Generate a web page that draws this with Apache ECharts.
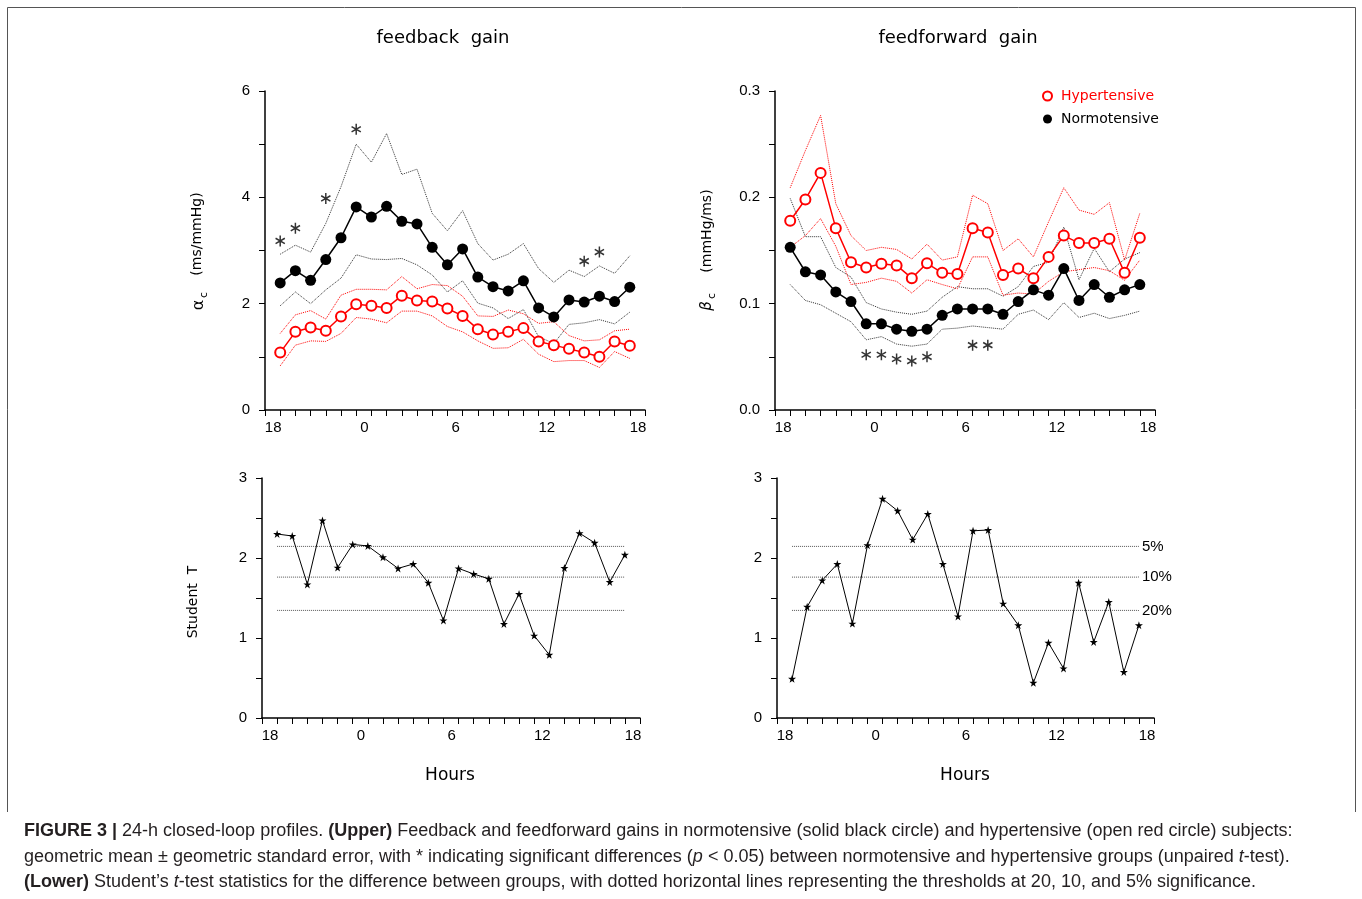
<!DOCTYPE html>
<html><head><meta charset="utf-8">
<script src="https://cdn.jsdelivr.net/npm/echarts@6/dist/echarts.min.js"></script>
<style>html,body{margin:0;padding:0;background:#fff}#c{width:1362px;height:899px}</style>
</head><body><div id="c"></div>
<script>
// ---------- data ----------
const clockHours = [18,19,20,21,22,23,0,1,2,3,4,5,6,7,8,9,10,11,12,13,14,15,16,17];
const xTickHours = [18,24,30,36,42];
const xTickText = ['18','0','6','12','18'];

// feedback gain alpha_c (ms/mmHg)
const fbNormo   = [2.39,2.62,2.44,2.83,3.24,3.82,3.63,3.83,3.55,3.50,3.06,2.73,3.03,2.50,2.32,2.24,2.43,1.92,1.75,2.07,2.03,2.14,2.04,2.31];
const fbNormoUp = [2.93,3.10,2.97,3.51,4.20,5.00,4.66,5.20,4.43,4.53,3.70,3.37,3.75,3.13,2.82,2.93,3.13,2.66,2.40,2.63,2.51,2.71,2.57,2.90];
const fbNormoLo = [1.96,2.22,2.00,2.26,2.48,2.92,2.84,2.83,2.85,2.73,2.54,2.22,2.43,2.01,1.92,1.72,1.89,1.38,1.25,1.61,1.64,1.70,1.62,1.84];
const fbHyper   = [1.08,1.47,1.55,1.49,1.76,1.99,1.96,1.92,2.15,2.06,2.04,1.91,1.77,1.52,1.42,1.47,1.54,1.29,1.22,1.15,1.08,1.00,1.29,1.21];
const fbHyperUp = [1.44,1.79,1.87,1.71,2.16,2.27,2.27,2.26,2.51,2.28,2.36,2.34,2.14,1.77,1.76,1.88,1.81,1.63,1.66,1.40,1.30,1.32,1.49,1.52];
const fbHyperLo = [0.83,1.22,1.30,1.29,1.44,1.74,1.71,1.64,1.86,1.86,1.77,1.57,1.47,1.30,1.16,1.17,1.33,1.05,0.91,0.93,0.93,0.80,1.10,0.97];
const fbStarIdx = [0,1,3,5,20,21];
const fbStarY   = [3.18,3.42,3.98,5.28,2.80,2.97];

// feedforward gain beta_c (mmHg/ms)
const ffHyper   = [0.178,0.198,0.223,0.171,0.139,0.134,0.1375,0.136,0.124,0.138,0.129,0.128,0.171,0.167,0.127,0.133,0.124,0.144,0.164,0.157,0.157,0.161,0.129,0.162];
const ffHyperUp = [0.209,0.244,0.277,0.194,0.164,0.150,0.153,0.151,0.142,0.156,0.141,0.144,0.202,0.194,0.150,0.161,0.144,0.177,0.209,0.188,0.184,0.195,0.141,0.185];
const ffHyperLo = [0.153,0.164,0.180,0.154,0.118,0.120,0.124,0.121,0.110,0.1225,0.118,0.114,0.144,0.144,0.108,0.110,0.109,0.121,0.130,0.132,0.134,0.131,0.122,0.141];
const ffNormo   = [0.153,0.130,0.127,0.111,0.102,0.081,0.081,0.076,0.074,0.076,0.089,0.095,0.095,0.095,0.090,0.102,0.113,0.108,0.133,0.103,0.118,0.106,0.113,0.118];
const ffNormoUp = [0.199,0.163,0.163,0.134,0.125,0.101,0.095,0.092,0.090,0.093,0.106,0.116,0.114,0.114,0.107,0.116,0.135,0.139,0.172,0.1225,0.152,0.130,0.142,0.148];
const ffNormoLo = [0.118,0.103,0.099,0.091,0.083,0.066,0.069,0.062,0.060,0.062,0.076,0.077,0.079,0.0775,0.076,0.090,0.094,0.085,0.101,0.087,0.091,0.086,0.089,0.093];
const ffStarIdx = [5,6,7,8,9,12,13];
const ffStarY   = [0.052,0.052,0.048,0.046,0.050,0.061,0.061];

// Student t statistics
const tFb = [2.30,2.275,1.67,2.47,1.88,2.17,2.15,2.01,1.87,1.925,1.69,1.22,1.87,1.80,1.74,1.175,1.55,1.03,0.79,1.875,2.31,2.19,1.70,2.04];
const tFf = [0.49,1.39,1.72,1.925,1.18,2.16,2.74,2.59,2.23,2.55,1.925,1.27,2.34,2.35,1.43,1.16,0.44,0.94,0.62,1.69,0.95,1.45,0.575,1.16];
const thresholds = [2.145,1.761,1.345];
const thresholdLabels = ['5%','10%','20%'];

// ---------- helpers ----------
const hourPos = clockHours.map(h => h < 18 ? h + 24 : h);
const pairs = vals => vals.map((v,i) => [hourPos[i], v]);
const starPairs = (idx, ys) => idx.map((k,i) => [hourPos[k], ys[i]]);

const RED = '#ff0000';
const AX = '#000';
const NUMFONT = 'Liberation Sans';
const TXTFONT = 'DejaVu Sans';
const asteriskPath = 'path://M43 0L57 0L57 100L43 100Z M2.7 32L9.7 19.9L97.3 68L90.3 80.1Z M9.7 80.1L2.7 68L90.3 19.9L97.3 32Z';
const starPath = 'path://M50 0L61.23 34.55L97.55 34.55L68.16 55.9L79.39 90.45L50 69.1L20.61 90.45L31.84 55.9L2.45 34.55L38.77 34.55Z';

function xAxis(gi){
  return {
    type:'value', gridIndex:gi, min:17, max:42, interval:1,
    axisLine:{lineStyle:{color:AX, width:1.5}},
    axisTick:{length:6, lineStyle:{color:AX, width:1}},
    splitLine:{show:false},
    axisLabel:{
      margin:10, color:'#000', fontFamily:NUMFONT, fontSize:15,
      formatter: v => { const k = xTickHours.indexOf(Math.round(v)); return k >= 0 ? '{a|' + xTickText[k] + '}' : ''; },
      rich:{a:{fontFamily:NUMFONT, fontSize:15, color:'#000', padding:[0,14,0,0]}}
    }
  };
}
function yAxis(gi, max, interval, fmt){
  return {
    type:'value', gridIndex:gi, min:0, max:max, interval:interval,
    axisLine:{show:true, lineStyle:{color:AX, width:1.5}},
    axisTick:{show:true, length:6, lineStyle:{color:AX, width:1}},
    splitLine:{show:false},
    axisLabel:{margin:15, color:'#000', fontFamily:NUMFONT, fontSize:15, formatter:fmt}
  };
}
function band(gi, vals, color){
  return {type:'line', xAxisIndex:gi, yAxisIndex:gi, data:pairs(vals), symbol:'none', silent:true,
    lineStyle:{type:'dotted', width:1, color:color}, z:2};
}
function meanHyper(gi, vals){
  return {name:'Hypertensive', type:'line', xAxisIndex:gi, yAxisIndex:gi, data:pairs(vals),
    symbol:'emptyCircle', symbolSize:10, itemStyle:{color:RED, borderColor:RED, borderWidth:1.5},
    lineStyle:{color:RED, width:1.5}, z:4};
}
function meanNormo(gi, vals){
  return {name:'Normotensive', type:'line', xAxisIndex:gi, yAxisIndex:gi, data:pairs(vals),
    symbol:'circle', symbolSize:11, itemStyle:{color:'#000'},
    lineStyle:{color:'#000', width:1.5}, z:4};
}
function stars(gi, idx, ys){
  return {type:'scatter', xAxisIndex:gi, yAxisIndex:gi, data:starPairs(idx, ys), symbol:asteriskPath,
    symbolSize:[10,11], itemStyle:{color:'#000'}, silent:true, z:5};
}
function tLine(gi, vals){
  return {type:'line', xAxisIndex:gi, yAxisIndex:gi, data:pairs(vals), symbol:starPath, symbolSize:8,
    itemStyle:{color:'#000'}, lineStyle:{color:'#000', width:1}, z:4};
}
function threshold(gi, t, lbl){
  const s = {type:'line', xAxisIndex:gi, yAxisIndex:gi, data:[[hourPos[0], t],[hourPos[hourPos.length-1], t]],
    symbol:'none', silent:true, lineStyle:{type:'dotted', width:1, color:'#555'}, z:2};
  if (lbl) s.endLabel = {show:true, formatter:lbl, color:'#000', fontFamily:NUMFONT, fontSize:15, distance:3};
  return s;
}

const series = [
  band(0, fbNormoUp, '#333'), band(0, fbNormoLo, '#333'),
  band(0, fbHyperUp, RED), band(0, fbHyperLo, RED),
  meanHyper(0, fbHyper), meanNormo(0, fbNormo), stars(0, fbStarIdx, fbStarY),

  band(1, ffNormoUp, '#333'), band(1, ffNormoLo, '#333'),
  band(1, ffHyperUp, RED), band(1, ffHyperLo, RED),
  meanNormo(1, ffNormo), meanHyper(1, ffHyper), stars(1, ffStarIdx, ffStarY),

  ...thresholds.map(t => threshold(2, t, null)), tLine(2, tFb),
  ...thresholds.map((t,i) => threshold(3, t, thresholdLabels[i])), tLine(3, tFf)
];

const CAPSIZE = 18;
const capFont = {fontFamily:'Liberation Sans', fontSize:CAPSIZE, fill:'#231f20'};
const capRich = {
  n:{fontFamily:'Liberation Sans', fontSize:CAPSIZE, color:'#231f20'},
  b:{fontFamily:'Liberation Sans', fontSize:CAPSIZE, color:'#231f20', fontWeight:'bold'},
  i:{fontFamily:'Liberation Sans', fontSize:CAPSIZE, color:'#231f20', fontStyle:'italic'}
};
function capLine(y, text){
  return {type:'text', x:24, y:y, style:Object.assign({text:text, rich:capRich, verticalAlign:'middle', align:'left'}, capFont)};
}
function rotText(x, y, text, size, extra){
  return {type:'text', x:x, y:y, rotation:Math.PI/2,
    style:Object.assign({text:text, fontFamily:TXTFONT, fontSize:size, fill:'#000', align:'center', verticalAlign:'middle'}, extra||{})};
}
function plainText(x, y, text, size){
  return {type:'text', x:x, y:y, style:{text:text, fontFamily:TXTFONT, fontSize:size, fill:'#000', align:'center', verticalAlign:'middle'}};
}

const option = {
  animation:false,
  backgroundColor:'#fff',
  grid:[
    {left:265, top:91, width:380, height:319},
    {left:775, top:91, width:380, height:319},
    {left:262, top:478, width:378, height:240},
    {left:777, top:478, width:377, height:240}
  ],
  xAxis:[xAxis(0), xAxis(1), xAxis(2), xAxis(3)],
  yAxis:[
    yAxis(0, 6, 1, v => (Math.round(v) % 2 === 0 ? String(Math.round(v)) : '')),
    yAxis(1, 0.3, 0.05, v => (Math.abs(v*10 - Math.round(v*10)) < 1e-6 ? v.toFixed(1) : '')),
    yAxis(2, 3, 0.5, v => (Math.abs(v - Math.round(v)) < 1e-6 ? String(Math.round(v)) : '')),
    yAxis(3, 3, 0.5, v => (Math.abs(v - Math.round(v)) < 1e-6 ? String(Math.round(v)) : ''))
  ],
  legend:{
    orient:'vertical', left:1037, top:84, itemWidth:9, itemHeight:9, itemGap:9,
    textStyle:{fontFamily:TXTFONT, fontSize:14, padding:[0,0,0,4]},
    data:[
      {name:'Hypertensive', icon:'emptyCircle', textStyle:{color:RED}},
      {name:'Normotensive', icon:'circle', textStyle:{color:'#000'}}
    ],
    selectedMode:false
  },
  series:series,
  graphic:[
    {type:'polyline', shape:{points:[[7.5,812],[7.5,7.5],[1355.5,7.5],[1355.5,812]]}, style:{stroke:'#555', lineWidth:1, fill:null}},
    plainText(443, 38, 'feedback  gain', 18),
    plainText(958, 38, 'feedforward  gain', 18),
    rotText(199, 305, 'α', 16),
    rotText(204, 295, 'c', 11),
    rotText(197, 234, '(ms/mmHg)', 14),
    rotText(707, 306, 'β', 15, {fontStyle:'italic'}),
    rotText(712, 296, 'c', 11),
    rotText(707, 231, '(mmHg/ms)', 14),
    rotText(193, 602, 'Student  T', 14),
    plainText(450, 776, 'Hours', 17),
    plainText(965, 776, 'Hours', 17),
    capLine(831, '{b|FIGURE 3 |}{n| 24-h closed-loop profiles. }{b|(Upper)}{n| Feedback and feedforward gains in normotensive (solid black circle) and hypertensive (open red circle) subjects:}'),
    capLine(857, '{n|geometric mean ± geometric standard error, with * indicating significant differences (}{i|p}{n| < 0.05) between normotensive and hypertensive groups (unpaired }{i|t}{n|-test).}'),
    capLine(882, '{b|(Lower)}{n| Student’s }{i|t}{n|-test statistics for the difference between groups, with dotted horizontal lines representing the thresholds at 20, 10, and 5% significance.}')
  ]
};

const chart = echarts.init(document.getElementById('c'), null, {renderer:'canvas'});
chart.setOption(option);
</script>
</body></html>
